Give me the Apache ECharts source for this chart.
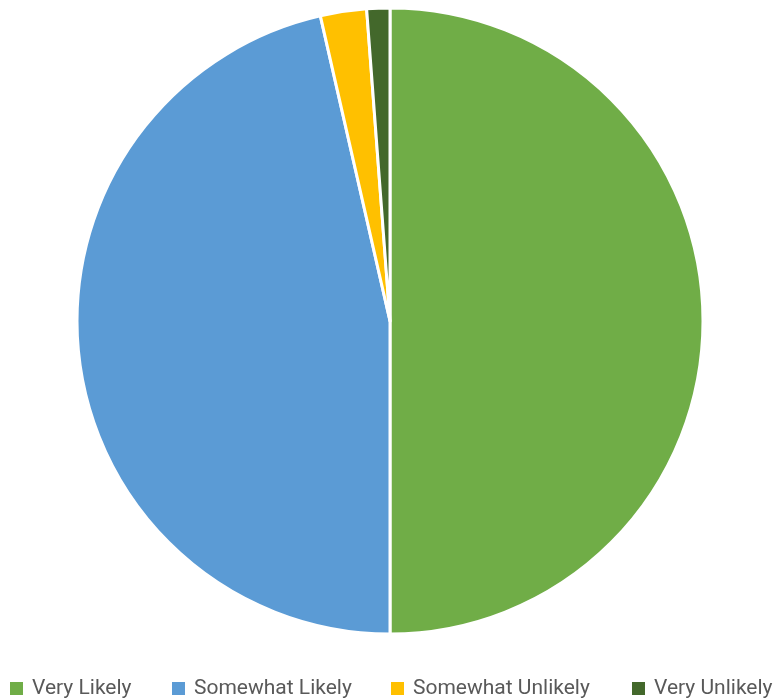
<!DOCTYPE html>
<html>
<head>
<meta charset="utf-8">
<script src="https://cdn.jsdelivr.net/npm/echarts@6/dist/echarts.min.js"></script>
<style>
  html, body { margin: 0; padding: 0; background: #fff; }
  #pie { width: 780px; height: 700px; }
</style>
</head>
<body>
<div id="pie"></div>
<script>
const categories = ['Very Likely', 'Somewhat Likely', 'Somewhat Unlikely', 'Very Unlikely'];
const counts = [42, 39, 2, 1];
const colors = ['#70ad47', '#5b9bd5', '#ffc000', '#43682b'];
// legend item left positions
const legendLeft = [8, 170, 389, 630];

let myChart = echarts.init(document.getElementById('pie'));
let option = {
  color: colors,
  legend: categories.map((name, i) => ({
    data: [name],
    left: legendLeft[i],
    top: 678,
    padding: 0,
    itemWidth: 15,
    itemHeight: 15,
    itemGap: 0,
    icon: 'rect',
    textStyle: {
      color: '#595959',
      fontSize: 21,
      fontFamily: 'Roboto, sans-serif',
      padding: [0, 0, 0, 3]
    },
    selectedMode: false
  })),
  series: [{
    type: 'pie',
    center: [390, 321],
    radius: [0, 313],
    startAngle: 90,
    clockwise: true,
    label: { show: false },
    labelLine: { show: false },
    animation: false,
    itemStyle: {
      borderColor: '#fff',
      borderWidth: 3
    },
    data: categories.map((name, i) => ({ name: name, value: counts[i] }))
  }]
};
myChart.setOption(option);
</script>
</body>
</html>
